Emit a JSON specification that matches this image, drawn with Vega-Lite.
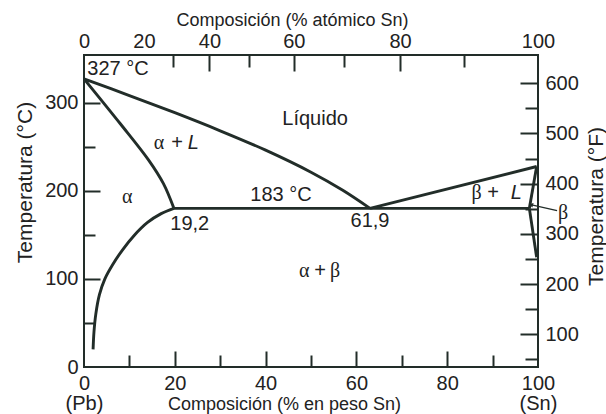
{
  "$schema": "https://vega.github.io/schema/vega-lite/v6.json",
  "width": 454,
  "height": 312,
  "autosize": {"type": "none"},
  "padding": {"left": 84, "top": 55, "right": 68, "bottom": 47},
  "background": "white",
  "config": {
    "view": {"stroke": "#222d29", "strokeWidth": 2},
    "axis": {"grid": false, "domain": false, "labelFont": "Liberation Sans", "titleFont": "Liberation Sans", "labelColor": "#222", "titleColor": "#222", "titleFontWeight": "normal", "tickColor": "#222d29", "tickWidth": 2, "labelOverlap": false, "labelFlush": false},
    "text": {"font": "Liberation Sans", "fontSize": 20, "color": "#222"}
  },
  "datasets": {
    "lines": [
      {"seg": "liq", "o": 0, "x": 0, "y": 327},
      {"seg": "liq", "o": 1, "x": 10, "y": 308},
      {"seg": "liq", "o": 2, "x": 20, "y": 288.5},
      {"seg": "liq", "o": 3, "x": 30, "y": 268},
      {"seg": "liq", "o": 4, "x": 40, "y": 246},
      {"seg": "liq", "o": 5, "x": 50, "y": 221},
      {"seg": "liq", "o": 6, "x": 57, "y": 200.5},
      {"seg": "liq", "o": 7, "x": 63, "y": 180},
      {"seg": "sol", "o": 0, "x": 0, "y": 327},
      {"seg": "sol", "o": 1, "x": 8, "y": 276},
      {"seg": "sol", "o": 2, "x": 14.2, "y": 235},
      {"seg": "sol", "o": 3, "x": 17.5, "y": 208},
      {"seg": "sol", "o": 4, "x": 19.8, "y": 180},
      {"seg": "eut", "o": 0, "x": 19.8, "y": 180},
      {"seg": "eut", "o": 1, "x": 98.1, "y": 180},
      {"seg": "liqR", "o": 0, "x": 63, "y": 180},
      {"seg": "liqR", "o": 1, "x": 99.7, "y": 227.5},
      {"seg": "bsol", "o": 0, "x": 99.7, "y": 227.5},
      {"seg": "bsol", "o": 1, "x": 98.1, "y": 180},
      {"seg": "bsolv", "o": 0, "x": 98.1, "y": 180},
      {"seg": "bsolv", "o": 1, "x": 99.7, "y": 124.5},
      {"seg": "asolv", "o": 0, "x": 19.8, "y": 180},
      {"seg": "asolv", "o": 1, "x": 17, "y": 174},
      {"seg": "asolv", "o": 2, "x": 14, "y": 164},
      {"seg": "asolv", "o": 3, "x": 11, "y": 149},
      {"seg": "asolv", "o": 4, "x": 8.5, "y": 133},
      {"seg": "asolv", "o": 5, "x": 6.3, "y": 116},
      {"seg": "asolv", "o": 6, "x": 4.6, "y": 100},
      {"seg": "asolv", "o": 7, "x": 3.4, "y": 82},
      {"seg": "asolv", "o": 8, "x": 2.6, "y": 60},
      {"seg": "asolv", "o": 9, "x": 2.2, "y": 40},
      {"seg": "asolv", "o": 10, "x": 2.0, "y": 20}
    ],
    "dummy": [{"x": 50, "y": 100}],
    "sans": [
      {"x": 7.5, "y": 337.7, "t": "327 °C"},
      {"x": 50.9, "y": 281.5, "t": "Líquido"},
      {"x": 43.4, "y": 194.7, "t": "183 °C"},
      {"x": 23.3, "y": 162.3, "t": "19,2"},
      {"x": 63.0, "y": 165.7, "t": "61,9"},
      {"x": 20.5, "y": 254, "t": "+"},
      {"x": 52.0, "y": 109, "t": "+"},
      {"x": 90.1, "y": 197, "t": "+"}
    ],
    "greek": [
      {"x": 9.5, "y": 193, "t": "α"},
      {"x": 16.5, "y": 254, "t": "α"},
      {"x": 48.5, "y": 109, "t": "α"},
      {"x": 55.3, "y": 109, "t": "β"},
      {"x": 86.5, "y": 197, "t": "β"},
      {"x": 105.5, "y": 174.5, "t": "β"}
    ],
    "ital": [
      {"x": 24.1, "y": 254, "t": "L"},
      {"x": 95.2, "y": 197, "t": "L"}
    ],
    "arrow": [{"x": 104.2, "y": 177.5, "x2": 98.6, "y2": 184}]
  },
  "resolve": {"axis": {"x": "independent", "y": "independent"}},
  "layer": [
    {
      "data": {"name": "lines"},
      "mark": {"type": "line", "color": "#222d29", "strokeWidth": 2.9, "strokeJoin": "round", "interpolate": "catmull-rom"},
      "encoding": {
        "x": {"field": "x", "type": "quantitative", "scale": {"domain": [0, 100], "nice": false},
          "axis": {"orient": "bottom", "values": [0, 20, 40, 60, 80, 100], "ticks": false, "labelFontSize": 20, "labelPadding": 6, "labelLineHeight": 20,
            "labelExpr": "datum.value == 0 ? ['0','(Pb)'] : datum.value == 100 ? ['100','(Sn)'] : datum.label",
            "title": "Composición (% en peso Sn)", "titleFontSize": 18, "titleX": 200, "titleY": 42, "titleBaseline": "alphabetic", "titleAlign": "center"}},
        "y": {"field": "y", "type": "quantitative", "scale": {"domain": [0, 354], "nice": false},
          "axis": {"orient": "left", "values": [0, 100, 200, 300], "ticks": false, "labelFontSize": 20, "labelPadding": 6,
            "title": "Temperatura  (°C)", "titleFontSize": 21, "titleX": -53, "titleY": 127, "titleBaseline": "alphabetic", "titleAngle": 270, "titleAlign": "center"}},
        "detail": {"field": "seg"},
        "order": {"field": "o"}
      }
    },
    {
      "data": {"name": "dummy"},
      "mark": {"type": "point", "opacity": 0},
      "encoding": {
        "x": {"field": "x", "type": "quantitative", "scale": {"domain": [0, 100], "nice": false},
          "axis": {"orient": "bottom", "values": [10, 20, 30, 40, 50, 60, 70, 80, 90], "labels": false, "title": null,
            "tickSize": {"condition": {"test": "datum.value % 20 == 0", "value": -16}, "value": -12}}},
        "y": {"field": "y", "type": "quantitative", "scale": {"domain": [0, 354], "nice": false},
          "axis": {"orient": "left", "values": [50, 100, 150, 200, 250, 300], "labels": false, "title": null,
            "tickSize": {"condition": {"test": "datum.value % 100 == 0", "value": -16}, "value": -11}}}
      }
    },
    {
      "data": {"name": "dummy"},
      "mark": {"type": "point", "opacity": 0},
      "encoding": {
        "x": {"field": "x", "type": "quantitative", "scale": {"domain": [0, 100], "nice": false},
          "axis": {"orient": "top", "values": [0, 13.2, 27.64, 46.22, 69.62, 100], "ticks": false, "labelFontSize": 20, "labelPadding": 4,
            "labelExpr": "datum.value == 0 ? '0' : datum.value < 14 ? '20' : datum.value < 28 ? '40' : datum.value < 47 ? '60' : datum.value < 70 ? '80' : '100'",
            "title": "Composición (% atómico Sn)", "titleFontSize": 18, "titleX": 208, "titleY": -30, "titleBaseline": "alphabetic", "titleAlign": "center"}},
        "y": {"field": "y", "type": "quantitative", "scale": {"domain": [0, 354], "nice": false},
          "axis": {"orient": "right", "values": [37.1, 94.08, 151.06, 208.04, 265.02, 322.0], "ticks": false, "labelFontSize": 20, "labelPadding": 7,
            "labelExpr": "format(round((datum.value - 37.1) / 0.5698 + 100), 'd')",
            "title": "Temperatura  (°F)", "titleFontSize": 21, "titleX": 64, "titleY": 151, "titleBaseline": "alphabetic", "titleAngle": 270, "titleAlign": "center"}}
      }
    },
    {
      "data": {"name": "dummy"},
      "mark": {"type": "point", "opacity": 0},
      "encoding": {
        "x": {"field": "x", "type": "quantitative", "scale": {"domain": [0, 100], "nice": false},
          "axis": {"orient": "top", "values": [19.71, 27.64, 36.42, 46.22, 57.21, 69.62, 83.76], "labels": false, "title": null,
            "tickSize": {"condition": {"test": "datum.value == 27.64 || datum.value == 46.22 || datum.value == 69.62", "value": -16}, "value": -12}}},
        "y": {"field": "y", "type": "quantitative", "scale": {"domain": [0, 354], "nice": false},
          "axis": {"orient": "right", "values": [8.61, 37.1, 65.59, 94.08, 122.57, 151.06, 179.55, 208.04, 236.53, 265.02, 293.51, 322.0], "labels": false, "title": null,
            "tickSize": {"condition": {"test": "round((datum.value - 37.1) / 0.5698 / 50) % 2 == 0", "value": -18}, "value": -13}}}
      }
    },
    {
      "data": {"name": "sans"},
      "mark": {"type": "text", "font": "Liberation Sans", "fontSize": 20, "align": "center", "baseline": "middle"},
      "encoding": {
        "x": {"field": "x", "type": "quantitative", "scale": {"domain": [0, 100], "nice": false}, "axis": null},
        "y": {"field": "y", "type": "quantitative", "scale": {"domain": [0, 354], "nice": false}, "axis": null},
        "text": {"field": "t"}
      }
    },
    {
      "data": {"name": "greek"},
      "mark": {"type": "text", "font": "Liberation Serif", "fontSize": 20, "align": "center", "baseline": "middle"},
      "encoding": {
        "x": {"field": "x", "type": "quantitative", "scale": {"domain": [0, 100], "nice": false}, "axis": null},
        "y": {"field": "y", "type": "quantitative", "scale": {"domain": [0, 354], "nice": false}, "axis": null},
        "text": {"field": "t"}
      }
    },
    {
      "data": {"name": "ital"},
      "mark": {"type": "text", "font": "Liberation Sans", "fontStyle": "italic", "fontSize": 20, "align": "center", "baseline": "middle"},
      "encoding": {
        "x": {"field": "x", "type": "quantitative", "scale": {"domain": [0, 100], "nice": false}, "axis": null},
        "y": {"field": "y", "type": "quantitative", "scale": {"domain": [0, 354], "nice": false}, "axis": null},
        "text": {"field": "t"}
      }
    },
    {
      "data": {"name": "arrow"},
      "mark": {"type": "rule", "color": "#222d29", "strokeWidth": 1.3},
      "encoding": {
        "x": {"field": "x", "type": "quantitative", "scale": {"domain": [0, 100], "nice": false}, "axis": null},
        "y": {"field": "y", "type": "quantitative", "scale": {"domain": [0, 354], "nice": false}, "axis": null},
        "x2": {"field": "x2"},
        "y2": {"field": "y2"}
      }
    },
    {
      "data": {"name": "arrow"},
      "mark": {"type": "point", "shape": "triangle", "filled": true, "color": "#222d29", "opacity": 1, "size": 22, "angle": -75},
      "encoding": {
        "x": {"field": "x2", "type": "quantitative", "scale": {"domain": [0, 100], "nice": false}, "axis": null},
        "y": {"field": "y2", "type": "quantitative", "scale": {"domain": [0, 354], "nice": false}, "axis": null}
      }
    }
  ]
}
